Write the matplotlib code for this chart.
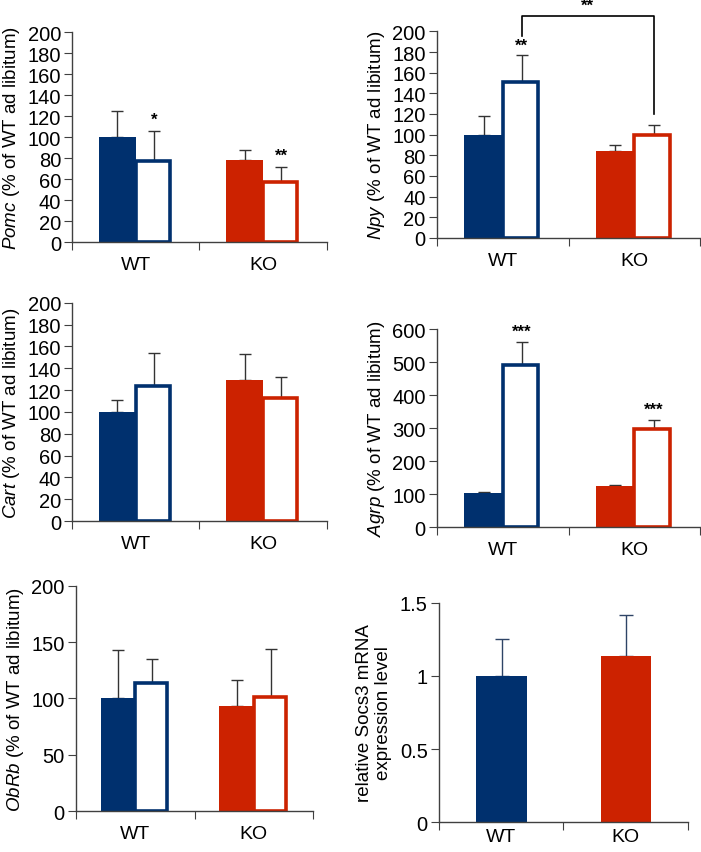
import numpy as np
import matplotlib
matplotlib.use('Agg')
import matplotlib.pyplot as plt

plt.rcParams['font.family'] = ['Liberation Sans', 'DejaVu Sans']
plt.rcParams['mathtext.fontset'] = 'custom'
plt.rcParams['mathtext.rm'] = 'Liberation Sans'
plt.rcParams['mathtext.it'] = 'Liberation Sans:italic'

BLUE = '#00306e'
RED = '#cc2200'

groups = ['WT', 'KO']

# filled = ad libitum, open = fasted ; [WT, KO]
pomc_fed = [100, 78]
pomc_fed_err = [25, 10]
pomc_fast = [77, 57]
pomc_fast_err = [29, 15]
pomc_stars = ['*', '**']

npy_fed = [100, 84]
npy_fed_err = [18, 6]
npy_fast = [151, 100]
npy_fast_err = [26, 9]
npy_stars = ['**', '']

cart_fed = [100, 129]
cart_fed_err = [11, 24]
cart_fast = [124, 113]
cart_fast_err = [30, 19]
cart_stars = ['', '']

agrp_fed = [102, 125]
agrp_fed_err = [3, 3]
agrp_fast = [490, 298]
agrp_fast_err = [70, 25]
agrp_stars = ['***', '***']

obrb_fed = [100, 93]
obrb_fed_err = [43, 23]
obrb_fast = [114, 101]
obrb_fast_err = [21, 43]
obrb_stars = ['', '']

socs3 = [1.0, 1.14]
socs3_err = [0.25, 0.28]


def style_axes(ax, ymax, ystep, xpad=10):
    for s in ['top', 'right']:
        ax.spines[s].set_visible(False)
    for s in ['left', 'bottom']:
        ax.spines[s].set_color('#404040')
        ax.spines[s].set_linewidth(1.0)
    ax.set_xlim(0, 2)
    ax.set_ylim(0, ymax)
    ax.set_yticks(np.arange(0, ymax + ystep / 2, ystep))
    ax.set_xticks([0, 1, 2])
    ax.set_xticklabels([])
    ax.set_xticks([0.5, 1.5], minor=True)
    ax.set_xticklabels(groups, minor=True, fontsize=14)
    ax.tick_params(axis='x', which='major', direction='out', length=6, color='#404040')
    ax.tick_params(axis='x', which='minor', length=0, pad=xpad)
    ax.tick_params(axis='y', direction='out', length=6, color='#404040', labelsize=14.5, pad=2)


def paired(ax, fed, fed_err, fast, fast_err, stars, ymax, ystep, label, star_off):
    x = np.array([0.5, 1.5])
    w = 0.29
    cols = [BLUE, RED]
    ax.bar(x - w / 2, fed, w, color=cols, edgecolor=cols, linewidth=0, zorder=2)
    ax.bar(x + w / 2 - 0.01, fast, w - 0.02, color='white', edgecolor=cols, linewidth=2.6, zorder=2)
    ax.errorbar(x - w / 2, fed, yerr=[np.zeros(2), fed_err], fmt='none', ecolor='#333333',
                elinewidth=1.0, capsize=4, capthick=1.0, zorder=1)
    ax.errorbar(x + w / 2, fast, yerr=[np.zeros(2), fast_err], fmt='none', ecolor='#333333',
                elinewidth=1.0, capsize=4, capthick=1.0, zorder=1)
    for i in range(2):
        if stars[i]:
            ax.text(x[i] + w / 2, fast[i] + fast_err[i] + star_off, stars[i], ha='center',
                    va='bottom', fontsize=12, fontweight='bold')
    style_axes(ax, ymax, ystep)
    ax.set_ylabel(label, fontsize=13.5, labelpad=4)


fig = plt.figure(figsize=(7.01, 8.53), dpi=100)

ax1 = fig.add_axes([0.103, 0.715, 0.363, 0.246])
paired(ax1, pomc_fed, pomc_fed_err, pomc_fast, pomc_fast_err, pomc_stars, 200, 20,
       r'$\it{Pomc}$ (% of WT ad libitum)', 4)

ax2 = fig.add_axes([0.623, 0.720, 0.376, 0.242])
paired(ax2, npy_fed, npy_fed_err, npy_fast, npy_fast_err, npy_stars, 200, 20,
       r'$\it{Npy}$ (% of WT ad libitum)', 2)
# bracket between WT fasted and KO fasted
xw, xk = 0.5 + 0.145, 1.5 + 0.145
ax2.plot([xw, xw, xk, xk], [196, 215, 215, 120], color='black', lw=1.2, clip_on=False)
ax2.text((xw + xk) / 2, 218, '**', ha='center', va='bottom', fontsize=12,
         fontweight='bold', clip_on=False)

ax3 = fig.add_axes([0.103, 0.388, 0.363, 0.256])
paired(ax3, cart_fed, cart_fed_err, cart_fast, cart_fast_err, cart_stars, 200, 20,
       r'$\it{Cart}$ (% of WT ad libitum)', 4)

ax4 = fig.add_axes([0.623, 0.381, 0.376, 0.232])
paired(ax4, agrp_fed, agrp_fed_err, agrp_fast, agrp_fast_err, agrp_stars, 600, 100,
       r'$\it{Agrp}$ (% of WT ad libitum)', 12)

ax5 = fig.add_axes([0.108, 0.048, 0.339, 0.264])
paired(ax5, obrb_fed, obrb_fed_err, obrb_fast, obrb_fast_err, obrb_stars, 200, 50,
       r'$\it{ObRb}$ (% of WT ad libitum)', 4)

ax6 = fig.add_axes([0.626, 0.035, 0.355, 0.257])
xs = np.array([0.505, 1.505])
ax6.bar(xs, socs3, 0.405, color=[BLUE, RED], zorder=2)
ax6.errorbar(xs, socs3, yerr=[np.zeros(2), socs3_err], fmt='none', ecolor='#2e4466',
             elinewidth=1.0, capsize=5, capthick=1.0, zorder=1)
style_axes(ax6, 1.5, 0.5, xpad=4)
ax6.set_yticks([0, 0.5, 1, 1.5])
ax6.set_yticklabels(['0', '0.5', '1', '1.5'])
ax6.set_ylabel('relative Socs3 mRNA\nexpression level', fontsize=13.5, labelpad=6,
               linespacing=1.15)

fig.savefig('out.png', dpi=100)
